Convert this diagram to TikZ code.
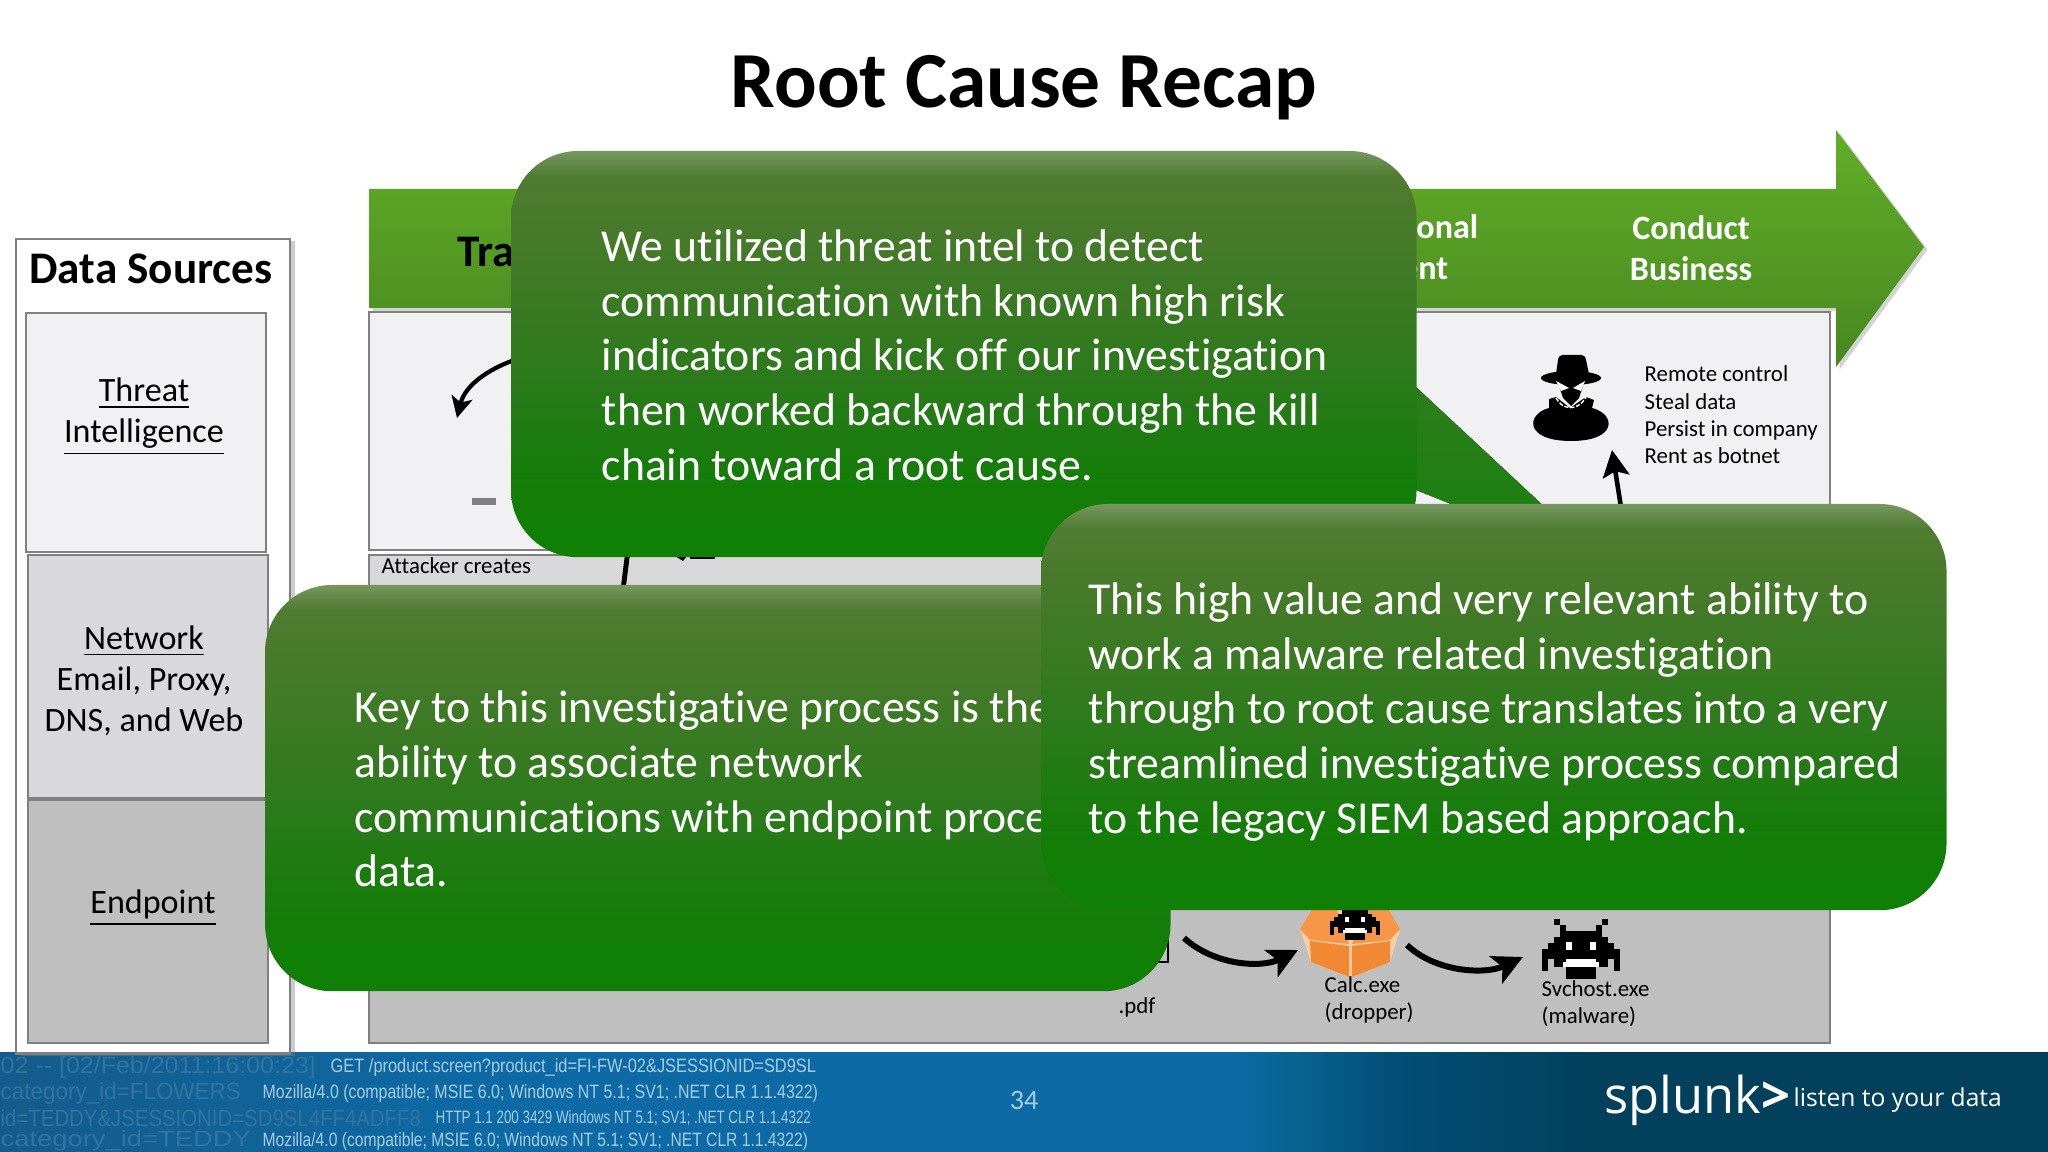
\documentclass[tikz,border=0pt]{standalone}
\usepackage{fontspec}
\setmainfont{Carlito}[Ligatures=NoCommon]
\newfontfamily\logofont{Open Sans}
\newfontfamily\logfont{Liberation Sans}
\usepackage{xcolor}
\usetikzlibrary{arrows.meta,positioning,calc,shadows}
\definecolor{softwhite}{RGB}{241,241,243}
\definecolor{softgray}{RGB}{217,217,219}
\definecolor{midgray}{RGB}{192,191,192}
\definecolor{edgegray}{RGB}{128,128,128}
\definecolor{boxorange}{RGB}{240,136,52}
\definecolor{flaporange}{RGB}{247,150,70}
\definecolor{seamorange}{RGB}{248,205,165}
\definecolor{logdim}{RGB}{50,116,160}
\definecolor{logbright}{RGB}{165,205,228}
\definecolor{arrowtop}{RGB}{97,174,40}
\definecolor{arrowbottom}{RGB}{72,136,32}
\definecolor{tailtopgreen}{RGB}{46,124,28}
\definecolor{tailbottomgreen}{RGB}{20,130,10}
\definecolor{bubblea}{RGB}{16,127,5}
\definecolor{bubbleb}{RGB}{22,124,10}
\definecolor{bubblec}{RGB}{42,122,26}
\definecolor{bubbled}{RGB}{74,122,44}
\definecolor{bubblee}{RGB}{80,124,50}
\definecolor{bubblef}{RGB}{118,151,95}
\pgfdeclareverticalshading{greenbubble}{100bp}{
  color(0bp)=(bubblea); color(29bp)=(bubblea); color(36bp)=(bubbleb);
  color(46bp)=(bubblec); color(67bp)=(bubbled); color(72bp)=(bubblee);
  color(75bp)=(bubblef); color(100bp)=(bubblef)}
\definecolor{banda}{RGB}{20,92,140}
\definecolor{bandb}{RGB}{13,106,165}
\definecolor{bandc}{RGB}{8,96,140}
\definecolor{bandd}{RGB}{2,78,118}
\definecolor{bande}{RGB}{2,64,92}
\pgfdeclarehorizontalshading{footerband}{100bp}{
  color(0bp)=(banda); color(25bp)=(banda); color(37bp)=(bandb);
  color(55bp)=(bandb); color(57bp)=(bandc); color(59bp)=(bandd);
  color(64bp)=(bande); color(100bp)=(bande)}
\tikzset{
  panelbox/.style={draw=edgegray, line width=0.7pt, anchor=north west, inner sep=0pt, outer sep=0pt},
  shadowbox/.style={panelbox, drop shadow={shadow xshift=1.5pt, shadow yshift=-0.7pt, opacity=0.4}},
  sourcelabel/.style={font=\fontsize{9.7}{11.7}\selectfont, align=center, inner sep=0pt},
  stagelabel/.style={font=\fontsize{9.7}{11.7}\selectfont\bfseries, text=white, align=center, inner sep=0pt},
  headlabel/.style={font=\fontsize{12.85}{15}\selectfont\bfseries, inner sep=0pt},
  tinylabel/.style={font=\fontsize{6.5}{7.75}\selectfont, align=left, anchor=west, inner sep=0pt},
  bubble/.style={shading=greenbubble, rounded corners=0.67cm, anchor=north west, inner sep=0pt, outer sep=0pt,
    minimum width=9.05cm, minimum height=4.06cm},
  bubbletext/.style={text=white, align=left, inner sep=0pt, anchor=west, font=\fontsize{13}{15.55}\selectfont},
  flow/.style={line width=1.7pt, -{Stealth[length=8.5pt,width=8.5pt,inset=2pt]}},
  thinflow/.style={line width=1.2pt, -{Stealth[length=6pt,width=6pt,inset=1.5pt]}},
  invader/.pic={
    \foreach \a/\b/\c/\d in {2/0/3/1,10/0/11/1,3/1/4/2,9/1/10/2,3/2/10/3,2/3/11/4,1/4/12/5,0/5/13/6.6,
        0/6.6/1/8.6,12/6.6/13/8.6,2/6.6/11/8,4/8/9/10}
      \fill[black, x=0.06cm, y=-0.06cm] (\a,\b) rectangle (\c,\d);
    \foreach \a/\b/\c/\d in {4/3.9/5/5.1,8/3.9/9/5.1,4/6.7/9/7.2,3.5/7.2/9.5/8}
      \fill[white, x=0.06cm, y=-0.06cm] (\a,\b) rectangle (\c,\d);
  }
}
\begin{document}
\begin{tikzpicture}[x=0.01cm, y=-0.01cm, >=Latex]
  \useasboundingbox (0,0) rectangle (2048,1152);
  \node[font=\fontsize{22.6}{27}\selectfont\bfseries, inner sep=0pt] (title) at (1024,88) {Root Cause Recap};

  % footer
  \fill[shading=footerband] (0,1052) rectangle (2048,1152);
  \foreach \x/\y/\w/\h/\c/\t in {
      0/1067/3.15/0.17/logdim/{02 -- [02/Feb/2011:16:00:23]},
      330/1067/4.85/0.14/logbright/{GET /product.screen?product\_id=FI-FW-02\&JSESSIONID=SD9SL},
      0/1093/2.40/0.17/logdim/{category\_id=FLOWERS},
      262/1093/5.55/0.14/logbright/{Mozilla/4.0 (compatible; MSIE 6.0; Windows NT 5.1; SV1; .NET CLR 1.1.4322)},
      0/1118/4.20/0.17/logdim/{id=TEDDY\&JSESSIONID=SD9SL4FF4ADFF8},
      435/1118/3.75/0.13/logbright/{HTTP 1.1 200 3429 Windows NT 5.1; SV1; .NET CLR 1.1.4322},
      0/1141/2.50/0.16/logdim/{category\_id=TEDDY},
      262/1141/5.45/0.14/logbright/{Mozilla/4.0 (compatible; MSIE 6.0; Windows NT 5.1; SV1; .NET CLR 1.1.4322)}}
    \node[anchor=west, inner sep=0pt, text=\c, font=\logfont] at (\x,\y) {\resizebox{\w cm}{\h cm}{\t}};
  \node[text=logbright, font=\fontsize{8}{10}\selectfont, inner sep=0pt] (pagenum) at (1024,1100) {34};
  \node[text=white, font=\logofont\fontsize{14.4}{18}\selectfont, anchor=west, inner sep=0pt] (logo) at (1604,1100) {splunk\textbf{>}};
  \node[text=white, font=\logofont\fontsize{7}{8}\selectfont, anchor=west, inner sep=0pt] (motto) at (1793,1100) {listen to your data};

  % data sources column
  \node[shadowbox, fill=white, minimum width=2.74cm, minimum height=8.14cm] (sources) at (16,239) {};
  \node[panelbox, fill=softwhite, minimum width=2.40cm, minimum height=2.39cm] (threat) at (26,313) {};
  \node[panelbox, fill=softgray, minimum width=2.40cm, minimum height=2.43cm] (network) at (28,555) {};
  \node[panelbox, fill=midgray, minimum width=2.40cm, minimum height=2.43cm] (endpoint) at (28,800) {};
  \node[headlabel] (sourcestitle) at (151,269) {Data Sources};
  \node[sourcelabel] (threatlabel) at (144,417) {\underline{Threat}\\\underline{Intelligence}};
  \node[sourcelabel] (networklabel) at (144,681) {\underline{Network}\\Email, Proxy,\\DNS, and Web};
  \node[sourcelabel] (endpointlabel) at (153,908) {\underline{Endpoint}};

  % kill chain rows and arrow
  \node[panelbox, fill=softwhite, minimum width=14.60cm, minimum height=2.38cm] (rowone) at (369,312) {};
  \node[panelbox, fill=softgray, minimum width=14.60cm, minimum height=2.43cm] (rowtwo) at (369,555) {};
  \node[panelbox, fill=midgray, minimum width=14.60cm, minimum height=2.43cm] (rowthree) at (369,800) {};
  \draw[draw=none, top color=arrowtop, bottom color=arrowbottom,
    drop shadow={shadow xshift=1pt, shadow yshift=-0.8pt, opacity=0.35}]
    (369,189) -- (1836,189) -- (1836,130) -- (1924,247) -- (1836,367) -- (1836,308) -- (369,308) -- cycle;
  \node[headlabel, anchor=west] (stageone) at (457,252) {Tra};
  \node[stagelabel, anchor=east] (stagefoura) at (1479,227) {onal};
  \node[stagelabel, anchor=east] (stagefourb) at (1449,269) {ent};
  \node[stagelabel] (stagefive) at (1691,248) {Conduct\\Business};

  % row one
  \coordinate (spyin) at (1612,450);
  \coordinate (spyout) at (1623,520);
  \coordinate (loopin) at (457,418);
  \coordinate (loopout) at (530,355);
  \draw[thinflow, line width=1.3pt, -{Stealth[length=7.6pt,width=7.6pt,inset=1.5pt]}] (spyout) -- (spyin);
  \draw[thinflow] (loopout) .. controls (490,366) and (465,385) .. (loopin);
  \fill[edgegray] (472,498) rectangle (496,505);
  \node[tinylabel] (goals) at (1644,415) {Remote control\\Steal data\\Persist in company\\Rent as botnet};
  \fill[black] (1556,374) -- (1558,360) .. controls (1559,353) and (1565,355) .. (1572,355)
    .. controls (1579,355) and (1585,353) .. (1586,360) -- (1589,374) -- cycle;
  \fill[black] (1571,378) ellipse (30 and 7);
  \fill[black] (1549,399) -- (1556,397) -- (1570,408) -- (1586,397) -- (1594,400) -- (1592,408)
    .. controls (1616,414) and (1618,441) .. (1571,441) .. controls (1524,441) and (1526,414) .. (1549,408) -- cycle;
  \draw[white, line width=0.4pt, dash pattern=on 1.2pt off 0.5pt] (1556,398) .. controls (1562,410) and (1578,412) .. (1586,397);
  \fill[black] (1557,380) -- (1585,380) -- (1579,398) -- (1571,406) -- (1563,398) -- cycle;
  \fill[white] (1556,381) -- (1569,388) -- (1561,391) -- cycle;
  \fill[white] (1585,381) -- (1573,388) -- (1581,391) -- cycle;

  % row two
  \node[tinylabel] (attacker) at (381,566) {Attacker creates};
  \coordinate (stemtop) at (628,550);
  \coordinate (stembottom) at (623,590);
  \draw[line width=1.4pt] (stemtop) -- (stembottom);
  \fill[black] (675,556) -- (687,556) -- (683,561) -- cycle;
  \fill[black] (690,556) rectangle (715,559);

  % row three
  \draw[black, line width=0.7pt] (1130,930) rectangle (1168,962);
  \node[tinylabel] (pdf) at (1118,1007) {.pdf};
  \fill[seamorange] (1300,929) -- (1315,911) -- (1386,911) -- (1400,929) -- (1390,962) -- (1350,978) -- (1311,962) -- cycle;
  \fill[flaporange] (1300,929) -- (1315,905) -- (1335,905) -- (1349,944) -- (1310,940) -- cycle;
  \fill[flaporange] (1400,929) -- (1386,905) -- (1366,905) -- (1352,944) -- (1390,940) -- cycle;
  \fill[boxorange] (1310,941) -- (1349,946) -- (1349,977) -- (1311,962) -- cycle;
  \fill[boxorange] (1352,946) -- (1390,941) -- (1390,962) -- (1352,977) -- cycle;
  \pic[scale=0.64] (dropperbug) at (1330,902) {invader};
  \pic (malwarebug) at (1542,919) {invader};
  \coordinate (pdfout) at (1184,938);
  \coordinate (boxin) at (1298,950);
  \coordinate (boxout) at (1407,945);
  \coordinate (bugin) at (1523,957);
  \draw[flow] (pdfout) .. controls (1215,966) and (1262,968) .. (boxin);
  \draw[flow] (boxout) .. controls (1435,972) and (1485,975) .. (bugin);
  \node[tinylabel] (calc) at (1324,1000) {Calc.exe\\(dropper)};
  \node[tinylabel] (svchost) at (1541,1004) {Svchost.exe\\(malware)};

  % callouts
  \coordinate (tailtop) at (1416,387);
  \coordinate (tailtip) at (1609,567);
  \coordinate (tailbottom) at (1416,490);
  \fill[top color=tailtopgreen, bottom color=tailbottomgreen] (tailtop) -- (tailtip) -- (tailbottom) -- cycle;
  \node[bubble] (intel) at (511,151) {};
  \node[bubbletext] (inteltext) at (601,355)
    {We utilized threat intel to detect\\communication with known high risk\\indicators and kick off our investigation\\then worked backward through the kill\\chain toward a root cause.};
  \node[bubble] (process) at (265,585) {};
  \node[bubbletext] (processtext) at (354,789)
    {Key to this investigative process is the\\ability to associate network\\communications with endpoint process\\data.};
  \node[bubble] (value) at (1041,504) {};
  \node[bubbletext] (valuetext) at (1088,712)
    {This high value and very relevant ability to\\work a malware related investigation\\through to root cause translates into a very\\streamlined investigative process compared\\to the legacy SIEM based approach.};
\end{tikzpicture}
\end{document}
